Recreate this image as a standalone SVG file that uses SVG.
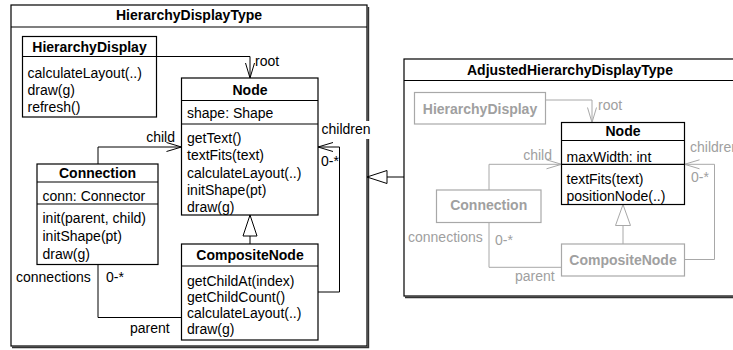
<svg xmlns="http://www.w3.org/2000/svg" width="733" height="350" viewBox="0 0 733 350">
  <style>
    text { font-family: "Liberation Sans", Arial, Helvetica, sans-serif; font-size: 14px; fill: #000; }
    .b { font-weight: bold; }
    .c { text-anchor: middle; }
    .e { text-anchor: end; }
    .g { fill: #a0a0a0; }
    .box { fill: #fff; stroke: #000; stroke-width: 1.2; }
    .gbox { fill: #fff; stroke: #a8a8a8; stroke-width: 1.2; }
    .sep { stroke: #000; stroke-width: 1.2; }
    .pkg { fill: #fff; stroke: #000; stroke-width: 1.2; }
    .shadow { fill: none; stroke: #333; stroke-width: 1.6; }
    .edge { fill: none; stroke: #000; stroke-width: 1; }
    .gedge { fill: none; stroke: #a8a8a8; stroke-width: 1; }
  </style>
  <defs>
    <!-- open navigation arrowheads -->
    <marker id="open" markerUnits="userSpaceOnUse" markerWidth="16" markerHeight="12" refX="15" refY="5" orient="auto" overflow="visible">
      <path d="M0,0.5 L15,5 L0,9.5" fill="none" stroke="#000" stroke-width="1"/>
    </marker>
    <marker id="open-g" markerUnits="userSpaceOnUse" markerWidth="16" markerHeight="12" refX="15" refY="5" orient="auto" overflow="visible">
      <path d="M0,0.5 L15,5 L0,9.5" fill="none" stroke="#a8a8a8" stroke-width="1"/>
    </marker>
    <!-- hollow generalization triangles -->
    <marker id="tri" markerUnits="userSpaceOnUse" markerWidth="24" markerHeight="16" refX="21" refY="7" orient="auto" overflow="visible">
      <path d="M0,0 L21,7 L0,14 Z" fill="#fff" stroke="#000" stroke-width="1"/>
    </marker>
    <marker id="tri-g" markerUnits="userSpaceOnUse" markerWidth="24" markerHeight="16" refX="21" refY="7.5" orient="auto" overflow="visible">
      <path d="M0,0 L21,7.5 L0,15 Z" fill="#fff" stroke="#a8a8a8" stroke-width="1"/>
    </marker>
    <marker id="tri-pkg" markerUnits="userSpaceOnUse" markerWidth="24" markerHeight="16" refX="20" refY="6.5" orient="auto" overflow="visible">
      <path d="M0,0 L20,6.5 L0,13 Z" fill="#fff" stroke="#000" stroke-width="1"/>
    </marker>
  </defs>

  <rect x="0" y="0" width="733" height="350" fill="#fff"/>

  <!-- packages -->
  <g id="pkg-hierarchy-display-type">
    <rect class="pkg" x="11" y="5" width="356" height="341"/>
    <polyline class="shadow" points="368.4,7 368.4,347.4 12,347.4"/>
    <line class="sep" x1="11" y1="27" x2="367" y2="27"/>
    <text class="b c" x="189" y="20">HierarchyDisplayType</text>
  </g>
  <g id="pkg-adjusted-hierarchy-display-type">
    <rect class="pkg" x="404" y="59" width="340" height="237"/>
    <polyline class="shadow" points="405,297.4 740,297.4"/>
    <line class="sep" x1="404" y1="80.5" x2="744" y2="80.5"/>
    <text class="b" x="467" y="75">AdjustedHierarchyDisplayType</text>
  </g>

  <!-- associations and generalizations -->
  <g id="connectors">
    <path class="edge" d="M157,56.5 H250 V78" marker-end="url(#open)"/>
    <path class="edge" d="M98,164 V147 H181.5" marker-end="url(#open)"/>
    <path class="edge" d="M318,292 H339.5 V147 H318" marker-end="url(#open)"/>
    <path class="edge" d="M98,264.5 V317.5 H181.5"/>
    <path class="edge" d="M250,244 V215" marker-end="url(#tri)"/>
    <path class="edge" d="M404,177 H367" marker-end="url(#tri-pkg)"/>

    <path class="gedge" d="M545.5,100 H592 V122.5" marker-end="url(#open-g)"/>
    <path class="gedge" d="M489,190 V164.3 H561.5" marker-end="url(#open-g)"/>
    <path class="gedge" d="M684.5,259.5 H714.5 V164.3 H684.5" marker-end="url(#open-g)"/>
    <path class="gedge" d="M489,222.5 V267.3 H561.5"/>
    <path class="gedge" d="M623,244 V204.5" marker-end="url(#tri-g)"/>

    <text x="255" y="66">root</text>
    <text class="e" x="175" y="142">child</text>
    <rect x="320" y="121" width="53" height="18" fill="#fff"/>
    <text x="321.5" y="134">children</text>
    <text x="321" y="166">0-*</text>
    <text x="16" y="282">connections</text>
    <text x="106" y="282">0-*</text>
    <text x="130" y="333">parent</text>

    <text class="g" x="598" y="110">root</text>
    <text class="g e" x="552" y="160">child</text>
    <text class="g" x="690" y="151.5">children</text>
    <text class="g" x="691" y="181.5">0-*</text>
    <text class="g" x="408" y="241.5">connections</text>
    <text class="g" x="495" y="244.5">0-*</text>
    <text class="g" x="515" y="281">parent</text>
  </g>

  <!-- classes of HierarchyDisplayType -->
  <g id="hierarchy-display">
    <rect class="box" x="22.5" y="36.5" width="134" height="80.5"/>
    <line class="sep" x1="22.5" y1="56.5" x2="156.5" y2="56.5"/>
    <text class="b c" x="89.5" y="51.5">HierarchyDisplay</text>
    <text x="27.5" y="77.5">calculateLayout(..)</text>
    <text x="27.5" y="95">draw(g)</text>
    <text x="27.5" y="112.3">refresh()</text>
  </g>
  <g id="node">
    <rect class="box" x="181.5" y="78" width="136.5" height="137"/>
    <line class="sep" x1="181.5" y1="100.5" x2="318" y2="100.5"/>
    <text class="b c" x="250" y="95">Node</text>
    <text x="187" y="117.5">shape: Shape</text>
    <line class="sep" x1="181.5" y1="124" x2="318" y2="124"/>
    <text x="187" y="142.5">getText()</text>
    <text x="187" y="160">textFits(text)</text>
    <text x="187" y="177.5">calculateLayout(..)</text>
    <text x="187" y="194.5">initShape(pt)</text>
    <text x="187" y="211.5">draw(g)</text>
  </g>
  <g id="connection">
    <rect class="box" x="37" y="164" width="121" height="100.5"/>
    <line class="sep" x1="37" y1="182" x2="158" y2="182"/>
    <text class="b c" x="97.5" y="177.5">Connection</text>
    <text x="42.5" y="201">conn: Connector</text>
    <line class="sep" x1="37" y1="204" x2="158" y2="204"/>
    <text x="42.5" y="222.5">init(parent, child)</text>
    <text x="42.5" y="240.5">initShape(pt)</text>
    <text x="42.5" y="258.5">draw(g)</text>
  </g>
  <g id="composite-node">
    <rect class="box" x="181.5" y="244" width="136.5" height="96"/>
    <line class="sep" x1="181.5" y1="266" x2="318" y2="266"/>
    <text class="b c" x="250" y="260">CompositeNode</text>
    <text x="187" y="285.5">getChildAt(index)</text>
    <text x="187" y="302">getChildCount()</text>
    <text x="187" y="318">calculateLayout(..)</text>
    <text x="187" y="334">draw(g)</text>
  </g>

  <!-- classes of AdjustedHierarchyDisplayType -->
  <g id="adj-hierarchy-display">
    <rect class="gbox" x="414.5" y="92.5" width="131" height="31.5"/>
    <text class="b c g" x="480" y="113.5">HierarchyDisplay</text>
  </g>
  <g id="adj-node">
    <rect class="box" x="561.5" y="122.5" width="123" height="82"/>
    <line class="sep" x1="561.5" y1="140.5" x2="684.5" y2="140.5"/>
    <text class="b c" x="623" y="136">Node</text>
    <text x="566.5" y="161.5">maxWidth: int</text>
    <line class="sep" x1="561.5" y1="164.3" x2="684.5" y2="164.3"/>
    <text x="566.5" y="184">textFits(text)</text>
    <text x="566.5" y="200.5">positionNode(..)</text>
  </g>
  <g id="adj-connection">
    <rect class="gbox" x="436.5" y="190" width="104.5" height="32.5"/>
    <text class="b c g" x="488.7" y="210">Connection</text>
  </g>
  <g id="adj-composite-node">
    <rect class="gbox" x="561.5" y="244" width="123" height="32"/>
    <text class="b c g" x="623" y="264.5">CompositeNode</text>
  </g>
</svg>
